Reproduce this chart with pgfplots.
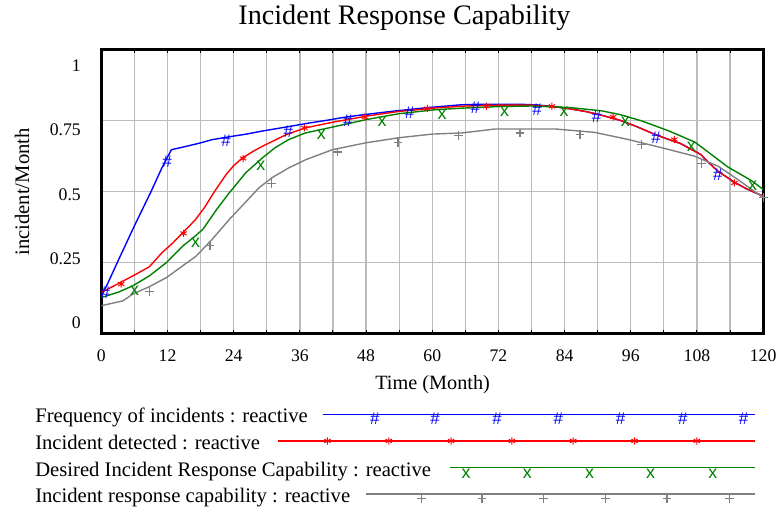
\documentclass[border=0pt]{standalone}
\usepackage{pgfplots}
\pgfplotsset{compat=1.18}
\usepackage{fontspec}
\setmainfont{Liberation Serif}
\newfontfamily\markfont{Liberation Sans}
\definecolor{vblue}{RGB}{0,0,255}
\definecolor{vred}{RGB}{255,0,0}
\definecolor{vgreen}{RGB}{0,128,0}
\definecolor{vgray}{RGB}{128,128,128}
\definecolor{gridc}{RGB}{188,188,188}
\pgfplotsset{
  hashmark/.style={only marks, mark=text, text mark={\#}, text mark as node=true,
    text mark style={font=\markfont\fontsize{8.5}{8.5}\selectfont, text=vblue, inner sep=0pt, anchor=center}},
  xmark/.style={only marks, mark=text, text mark={x}, text mark as node=true,
    text mark style={font=\markfont\fontsize{9}{9}\selectfont, text=vgreen, inner sep=0pt, anchor=center}},
  starmark/.style={only marks, mark=asterisk, mark size=1.8bp, mark options={vred, line width=0.5bp}},
  plusmark/.style={only marks, mark=+, mark size=2.2bp, mark options={vgray, line width=0.6bp}},
}
\begin{document}
\begin{tikzpicture}
\begin{axis}[
  at={(0,0)}, anchor=south west,
  scale only axis, width=331.9bp, height=142.25bp,
  xmin=0, xmax=120, ymin=0, ymax=1,
  xtick={0,12,...,120}, minor xtick={6,18,...,114},
  ytick={0,0.25,0.5,0.75,1},
  yticklabels={0,0.25,0.5,0.75,1},
  grid=both,
  major grid style={gridc, line width=0.6bp},
  minor grid style={gridc, line width=0.6bp},
  axis line style={line width=1.5bp, black},
  tick align=inside, major tick length=1.6bp, minor tick length=1.6bp,
  xtick style={black, line width=0.5bp},
  minor tick style={black, line width=0.5bp},
  ytick style={draw=none},
  /pgf/number format/assume math mode=true,
  ticklabel style={font=\fontsize{8.9}{10}\selectfont},
  xticklabel style={anchor=base, yshift=-14.25bp},
  yticklabel style={anchor=base east, xshift=-6.8bp, yshift={2.25bp-3.275bp*\ticknum}},
  every axis title shift=0pt,
  title={Incident Response Capability},
  title style={font=\fontsize{14.2}{16}\selectfont, at={(axis description cs:0.458,1.088)}, anchor=base, inner sep=0pt},
  xlabel={Time (Month)},
  xlabel style={font=\fontsize{10.2}{12}\selectfont, at={(axis description cs:0.5006,-0.1986)}, anchor=base, inner sep=0pt},
  ylabel={incident/Month},
  ylabel style={font=\fontsize{10.4}{12}\selectfont, at={(axis description cs:-0.12,0.499)}, anchor=center, inner sep=0pt},
  clip=true,
]
% Frequency of incidents
\addplot[vblue, line width=0.7bp] coordinates {
(0,0.133)(1,0.17)(3,0.255)(6,0.38)(9,0.50)(11,0.585)(12.7,0.648)(15,0.658)(18,0.672)(20,0.683)(23,0.693)(26,0.702)(29,0.713)(32,0.723)(35,0.733)(38,0.743)(41,0.752)(44,0.762)(47,0.770)(50,0.777)(53,0.784)(56,0.790)(59,0.796)(62,0.801)(65,0.806)(68,0.808)(72,0.808)(76,0.808)(79,0.806)(82,0.800)(85,0.792)(88,0.782)(91,0.768)(94,0.752)(97,0.730)(100,0.705)(102,0.690)(105,0.670)(108.7,0.631)(110,0.605)(111.8,0.572)(114.8,0.533)(117,0.510)(120,0.484)};
% Incident detected
\addplot[vred, line width=0.7bp] coordinates {
(0,0.145)(3,0.175)(5.7,0.203)(8.7,0.235)(11,0.285)(13,0.320)(14.8,0.356)(17,0.400)(18.7,0.444)(20.5,0.500)(22.6,0.560)(24,0.592)(25.6,0.619)(27.5,0.642)(29.2,0.660)(33.5,0.701)(37,0.725)(42,0.745)(48,0.766)(54,0.783)(60.6,0.795)(66,0.802)(72,0.805)(78,0.805)(82,0.800)(85,0.792)(88,0.782)(91,0.768)(94,0.752)(97,0.730)(100,0.705)(102,0.690)(105,0.670)(108.7,0.631)(110,0.605)(111.8,0.572)(114.8,0.533)(117,0.510)(120,0.484)};
% Desired Incident Response Capability
\addplot[vgreen, line width=0.7bp] coordinates {
(0,0.127)(3,0.145)(5.7,0.168)(8.7,0.203)(11.8,0.250)(14.8,0.309)(16.8,0.340)(18.4,0.367)(21,0.440)(23.2,0.496)(26.2,0.567)(29.2,0.619)(31.5,0.655)(34,0.684)(37,0.707)(42,0.728)(48,0.754)(54,0.775)(60.6,0.789)(66,0.795)(72,0.800)(78,0.802)(84.7,0.797)(90.7,0.785)(94,0.772)(97.9,0.750)(102.8,0.715)(107.6,0.675)(110,0.640)(113.6,0.587)(117.8,0.540)(120,0.508)};
% Incident response capability
\addplot[vgray, line width=0.7bp] coordinates {
(0,0.098)(3.9,0.115)(5.7,0.139)(8.7,0.165)(11.8,0.197)(14.5,0.235)(17.2,0.273)(20,0.330)(23.2,0.402)(26,0.460)(28.6,0.514)(31,0.550)(34,0.584)(37.1,0.613)(41.9,0.648)(47.9,0.672)(53.9,0.690)(60,0.703)(65.4,0.707)(71.4,0.721)(82.3,0.721)(89.5,0.709)(95.5,0.684)(101.6,0.655)(107.6,0.625)(111.8,0.590)(115.4,0.543)(120,0.479)};
% markers
\addplot[hashmark] coordinates {(0.7,0.145)(11.9,0.607)(22.6,0.678)(33.9,0.713)(44.7,0.750)(55.9,0.777)(67.8,0.795)(79.0,0.789)(89.8,0.763)(100.6,0.690)(111.8,0.561)};
\addplot[starmark] coordinates {(3.6,0.174)(14.9,0.353)(25.7,0.617)(36.8,0.725)(47.8,0.763)(59.1,0.793)(69.8,0.801)(81.7,0.801)(92.8,0.763)(103.9,0.684)(114.8,0.531)};
\addplot[xmark] coordinates {(6.0,0.150)(17.1,0.321)(28.9,0.592)(39.9,0.701)(50.9,0.746)(61.8,0.772)(73.1,0.783)(83.9,0.780)(95.0,0.745)(107.0,0.660)(118.1,0.520)};
\addplot[plusmark] coordinates {(8.7,0.148)(19.7,0.309)(30.9,0.528)(42.8,0.640)(53.8,0.674)(64.8,0.698)(75.9,0.707)(86.8,0.701)(97.9,0.666)(108.8,0.599)(120,0.479)};
\end{axis}
% legend panel in pixel units of the whole picture
\begin{axis}[
  at={(-50.85bp,-86.75bp)}, anchor=south west,
  scale only axis, width=391.5bp, height=254bp,
  xmin=0, xmax=783, ymin=0, ymax=508, y dir=reverse,
  hide axis, clip=false,
]
\addplot[draw=none, forget plot] coordinates {(0,0)(783,508)};
\node[anchor=base west, inner sep=0pt, font=\fontsize{10.4}{12}\selectfont] at (axis cs:35,424.3) {Frequency of incidents : reactive};
\node[anchor=base west, inner sep=0pt, font=\fontsize{10.4}{12}\selectfont] at (axis cs:35,451) {Incident detected : reactive};
\node[anchor=base west, inner sep=0pt, font=\fontsize{10.4}{12}\selectfont] at (axis cs:35,477.7) {Desired Incident Response Capability : reactive};
\node[anchor=base west, inner sep=0pt, font=\fontsize{10.4}{12}\selectfont] at (axis cs:35,504.3) {Incident response capability : reactive};
\addplot[vblue, line width=0.7bp] coordinates {(324,415.7)(757,415.7)};
\addplot[vred, line width=0.7bp] coordinates {(279,442.3)(757,442.3)};
\addplot[vgreen, line width=0.7bp] coordinates {(451.5,469)(757,469)};
\addplot[vgray, line width=0.7bp] coordinates {(367.5,495.7)(757,495.7)};
\addplot[hashmark] coordinates {(376,420)(436.5,420)(498.5,420)(560,420)(622.5,420)(685,420)(746,420)};
\addplot[starmark] coordinates {(328.5,442.3)(390,442.3)(452.5,442.3)(513.5,442.3)(575,442.3)(636.5,442.3)(699,442.3)};
\addplot[xmark] coordinates {(467.5,475)(529,475)(591.5,475)(652.5,475)(715,475)};
\addplot[plusmark] coordinates {(422.5,500)(483.5,500)(545,500)(607.5,500)(669,500)(731.5,500)};
\end{axis}
\end{tikzpicture}
\end{document}
